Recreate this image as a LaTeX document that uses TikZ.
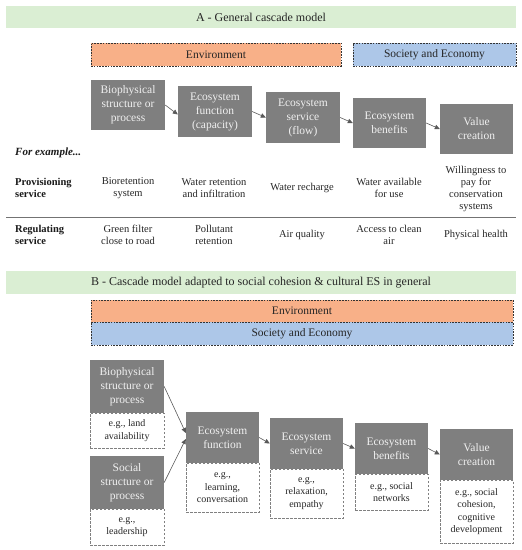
\documentclass[tikz,border=0pt]{standalone}
\usepackage{fontspec}
\setmainfont{Liberation Serif}
\usetikzlibrary{arrows.meta}
\definecolor{bannergreen}{HTML}{DAEED3}
\definecolor{envorange}{HTML}{F8B088}
\definecolor{socblue}{HTML}{ADC7E8}
\definecolor{boxgray}{HTML}{7F7F7F}
\begin{document}
\begin{tikzpicture}[x=1pt,y=-1pt,
  banner/.style={fill=bannergreen, draw=none, minimum width=510, minimum height=22, inner sep=0pt, font=\fontsize{12}{14}\selectfont, text=black!85},
  zonebox/.style={draw=black!80, dash pattern=on 1.6pt off 1.2pt, line width=0.8pt, inner sep=0pt, font=\fontsize{11.5}{14}\selectfont, text=black!85},
  graybox/.style={fill=boxgray, draw=none, text=white!94!black, align=center, font=\fontsize{11.5}{14}\selectfont, minimum width=74, minimum height=50, inner sep=1pt},
  exbox/.style={draw=black!50, dash pattern=on 2.5pt off 1.5pt, line width=0.7pt, fill=white, align=center, font=\fontsize{10}{12.5}\selectfont, text=black!85, minimum width=74, inner sep=1pt},
  cell/.style={align=center, font=\fontsize{10.5}{12}\selectfont, text=black!85, inner sep=0pt},
  rowlabel/.style={align=left, anchor=west, font=\fontsize{10.5}{12}\selectfont\bfseries, text=black!90, inner sep=0pt},
  flow/.style={-{Triangle[length=5pt,width=4.5pt]}, draw=black!65, line width=0.6pt}]
\useasboundingbox (0,0) rectangle (522,550);
% ---------- Part A ----------
\node[banner] (bA) at (261,17) {A - General cascade model};
\node[zonebox, fill=envorange, minimum width=250, minimum height=23] (envA) at (216,54.5) {Environment};
\node[zonebox, fill=socblue, minimum width=163, minimum height=23] (socA) at (434.5,54.5) {Society and Economy};
\node[graybox] (g1) at (128,105) {Biophysical\\structure or\\process};
\node[graybox, minimum height=51] (g2) at (215,111.5) {Ecosystem\\function\\(capacity)};
\node[graybox, minimum height=51] (g3) at (303,117.5) {Ecosystem\\service\\(flow)};
\node[graybox, minimum width=73] (g4) at (389.5,123) {Ecosystem\\benefits};
\node[graybox, minimum width=73] (g5) at (476.5,129) {Value\\creation};
\draw[flow] (g1.east) -- ([yshift=-3pt]g2.west);
\draw[flow] (g2.east) -- (g3.west);
\draw[flow] (g3.east) -- (g4.west);
\draw[flow] (g4.east) -- (g5.west);
\node[rowlabel, font=\fontsize{11}{13}\selectfont\bfseries\itshape] (fe) at (15,153) {For example...};
\node[rowlabel] (prov) at (15,188) {Provisioning\\service};
\node[cell] (p1) at (128,188) {Bioretention\\system};
\node[cell] (p2) at (214,188) {Water retention\\and infiltration};
\node[cell] (p3) at (302,188) {Water recharge};
\node[cell] (p4) at (389,188) {Water available\\for use};
\node[cell] (p5) at (476,189) {Willingness to\\pay for\\conservation\\systems};
\coordinate (sepL) at (6,217);
\coordinate (sepR) at (516,217);
\draw[black!55, line width=0.8pt] (sepL) -- (sepR);
\node[rowlabel] (reg) at (15,235) {Regulating\\service};
\node[cell] (r1) at (128,235) {Green filter\\close to road};
\node[cell] (r2) at (214,235) {Pollutant\\retention};
\node[cell] (r3) at (302,235) {Air quality};
\node[cell] (r4) at (389,235) {Access to clean\\air};
\node[cell] (r5) at (476,235) {Physical health};
% ---------- Part B ----------
\node[banner, minimum height=23] (bB) at (261,282.5) {B - Cascade model adapted to social cohesion \& cultural ES in general};
\node[zonebox, fill=envorange, minimum width=422, minimum height=22] (envB) at (302,311) {Environment};
\node[zonebox, fill=socblue, minimum width=422, minimum height=23] (socB) at (302,333.5) {Society and Economy};
\node[graybox, minimum height=53] (bio) at (127,386.5) {Biophysical\\structure or\\process};
\node[exbox, minimum height=35] (bioex) at (127,430.5) {e.g., land\\availability};
\node[graybox, minimum height=53] (soc) at (127,482.5) {Social\\structure or\\process};
\node[exbox, minimum height=36] (socex) at (127,527) {e.g.,\\leadership};
\node[graybox, minimum width=73, minimum height=51] (fun) at (222.5,437.5) {Ecosystem\\function};
\node[exbox, minimum width=73, minimum height=49] (funex) at (222.5,487.5) {e.g.,\\learning,\\conversation};
\node[graybox, minimum width=73, minimum height=51] (ser) at (306.5,443.5) {Ecosystem\\service};
\node[exbox, minimum width=73, minimum height=49] (serex) at (306.5,493.5) {e.g.,\\relaxation,\\empathy};
\node[graybox, minimum width=73, minimum height=51] (ben) at (391.5,448.5) {Ecosystem\\benefits};
\node[exbox, minimum width=73, minimum height=36] (benex) at (391.5,492) {e.g., social\\networks};
\node[graybox, minimum width=73, minimum height=51] (val) at (476.5,454.5) {Value\\creation};
\node[exbox, minimum width=73, minimum height=63] (valex) at (476.5,511.5) {e.g., social\\cohesion,\\cognitive\\development};
\draw[flow] (bio.east) -- ([yshift=4.5pt]fun.west);
\draw[flow] (soc.east) -- ([yshift=-1.5pt]fun.west);
\draw[flow] (fun.east) -- (ser.west);
\draw[flow] (ser.east) -- (ben.west);
\draw[flow] (ben.east) -- (val.west);
\end{tikzpicture}
\end{document}
